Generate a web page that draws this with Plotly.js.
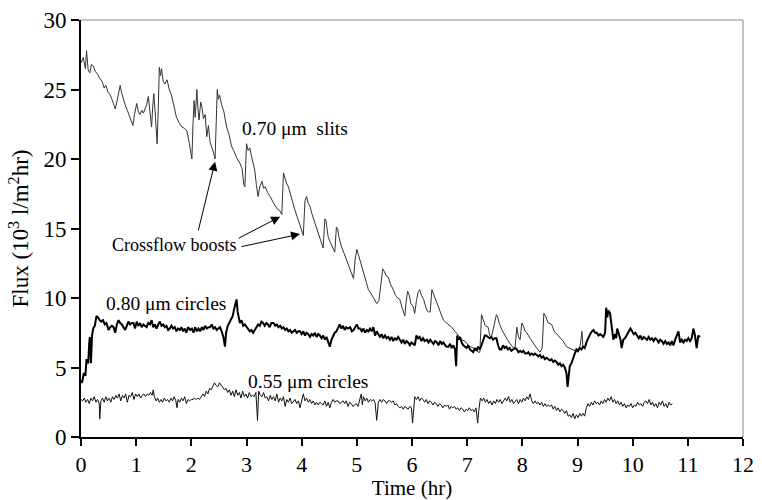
<!DOCTYPE html>
<html>
<head>
<meta charset="utf-8">
<script src="https://cdn.plot.ly/plotly-3.0.1.min.js"></script>
<style>html,body{margin:0;padding:0;background:#fff;}#chart{width:762px;height:500px;}</style>
</head>
<body>
<div id="chart"></div>
<script>
// 0.70 um slits
var slitsX = [0.00,0.04,0.08,0.10,0.13,0.16,0.19,0.22,0.26,0.30,0.34,0.38,0.42,0.45,0.49,0.53,0.57,0.60,0.62,0.65,0.68,0.71,0.74,0.77,0.80,0.84,0.88,0.91,0.94,0.97,1.01,1.04,1.07,1.10,1.13,1.16,1.19,1.22,1.25,1.28,1.30,1.32,1.35,1.38,1.40,1.42,1.44,1.46,1.49,1.52,1.56,1.60,1.64,1.68,1.73,1.78,1.83,1.88,1.92,1.96,2.01,2.03,2.05,2.07,2.10,2.12,2.14,2.17,2.19,2.22,2.25,2.28,2.31,2.34,2.37,2.40,2.43,2.45,2.47,2.49,2.51,2.55,2.59,2.64,2.68,2.73,2.77,2.82,2.88,2.92,2.95,2.97,3.00,3.03,3.06,3.09,3.12,3.15,3.18,3.21,3.24,3.28,3.31,3.34,3.38,3.43,3.48,3.52,3.56,3.60,3.64,3.67,3.70,3.73,3.76,3.79,3.83,3.88,3.92,3.97,4.00,4.03,4.06,4.09,4.12,4.15,4.19,4.24,4.28,4.33,4.36,4.39,4.42,4.44,4.46,4.48,4.52,4.57,4.60,4.63,4.65,4.68,4.72,4.77,4.82,4.88,4.94,4.97,5.00,5.03,5.06,5.09,5.12,5.17,5.21,5.26,5.30,5.33,5.36,5.40,5.44,5.47,5.50,5.53,5.57,5.61,5.66,5.70,5.74,5.78,5.82,5.87,5.89,5.92,5.95,5.98,6.02,6.05,6.08,6.11,6.14,6.17,6.21,6.24,6.27,6.30,6.33,6.36,6.39,6.43,6.47,6.51,6.57,6.63,6.69,6.72,6.78,6.84,6.90,6.96,7.02,7.06,7.11,7.16,7.20,7.23,7.26,7.29,7.33,7.38,7.41,7.44,7.48,7.53,7.55,7.58,7.63,7.68,7.73,7.78,7.84,7.87,7.90,7.93,7.96,7.99,8.02,8.05,8.08,8.14,8.20,8.26,8.32,8.36,8.39,8.42,8.47,8.53,8.58,8.63,8.68,8.74,8.80,8.86,8.92,8.97,9.01,9.05,9.08,9.10];
var slitsY = [26.9,27.3,26.5,27.8,26.4,26.2,26.8,26.7,26.3,26.1,25.8,25.6,25.1,25.3,24.8,24.6,24.2,23.9,23.6,24.1,24.6,25.3,24.7,24.2,23.9,23.5,23.1,22.8,22.4,23.2,24.0,23.4,23.2,23.5,23.3,23.6,23.9,24.5,23.6,22.3,23.8,24.7,23.0,21.1,23.5,26.6,26.0,26.5,25.6,25.4,25.7,25.0,24.6,23.9,23.0,22.6,22.3,22.2,22.0,21.2,20.0,22.5,24.2,23.0,25.0,23.6,22.8,24.1,23.8,22.9,23.2,21.6,22.4,21.2,20.9,20.5,20.0,22.8,25.0,24.3,24.6,23.9,23.4,22.3,21.8,20.9,20.6,20.1,19.7,19.3,18.2,18.0,21.1,20.6,20.8,20.2,19.6,19.2,18.1,17.3,18.0,18.4,17.9,18.0,17.6,17.3,16.9,16.6,16.4,16.3,16.0,19.0,18.6,18.2,18.0,17.5,17.0,16.3,15.8,15.1,14.8,14.5,17.0,17.3,16.8,16.6,16.0,15.4,14.9,14.2,13.9,13.6,15.7,15.6,15.0,14.4,14.0,13.5,13.3,15.1,15.0,14.3,13.7,13.2,12.7,12.1,11.4,12.8,13.5,13.1,12.7,12.3,11.8,11.1,10.6,10.3,10.0,9.8,9.6,9.8,11.2,12.1,11.9,11.6,11.5,11.0,10.6,10.2,10.0,9.9,9.3,8.7,9.6,10.5,10.2,9.6,9.4,8.9,9.8,10.4,10.6,10.2,9.9,9.4,9.1,9.0,9.0,10.6,10.3,9.8,9.4,9.1,8.4,8.2,8.0,7.9,7.6,7.3,7.0,6.9,6.6,6.5,6.4,6.3,6.1,6.1,8.8,8.5,8.0,7.9,7.3,7.2,7.9,8.8,8.7,8.2,7.7,7.3,7.0,6.7,6.4,6.5,7.9,7.2,7.0,8.2,8.0,7.6,7.5,7.1,6.7,6.4,6.1,6.4,8.9,8.7,8.2,8.1,7.6,7.4,7.2,6.9,6.5,6.4,6.3,6.2,6.1,6.6,7.6,6.4];

// 0.80 um circles
var c80X = [0.00,0.02,0.05,0.08,0.10,0.13,0.15,0.16,0.18,0.20,0.22,0.25,0.28,0.31,0.34,0.37,0.40,0.43,0.46,0.50,0.53,0.56,0.59,0.62,0.65,0.68,0.71,0.74,0.77,0.80,0.83,0.86,0.89,0.92,0.95,0.98,1.01,1.04,1.07,1.10,1.13,1.16,1.19,1.22,1.25,1.28,1.31,1.34,1.37,1.40,1.43,1.46,1.49,1.52,1.55,1.58,1.61,1.64,1.67,1.70,1.73,1.76,1.79,1.82,1.85,1.88,1.91,1.94,1.98,2.01,2.04,2.07,2.10,2.13,2.16,2.19,2.22,2.25,2.28,2.31,2.34,2.37,2.40,2.43,2.46,2.49,2.52,2.55,2.58,2.61,2.63,2.66,2.69,2.72,2.75,2.77,2.80,2.82,2.84,2.86,2.88,2.91,2.94,2.97,3.00,3.03,3.06,3.09,3.12,3.15,3.18,3.21,3.24,3.27,3.30,3.33,3.36,3.39,3.42,3.45,3.49,3.52,3.55,3.58,3.61,3.64,3.67,3.70,3.73,3.76,3.79,3.82,3.85,3.88,3.91,3.94,3.97,4.00,4.03,4.06,4.09,4.12,4.15,4.18,4.21,4.24,4.27,4.30,4.33,4.36,4.39,4.42,4.45,4.48,4.51,4.54,4.57,4.60,4.63,4.66,4.69,4.72,4.75,4.78,4.81,4.84,4.88,4.91,4.94,4.97,5.00,5.03,5.06,5.09,5.12,5.15,5.18,5.21,5.24,5.27,5.30,5.33,5.36,5.39,5.42,5.45,5.48,5.51,5.54,5.57,5.60,5.63,5.66,5.69,5.72,5.75,5.78,5.81,5.84,5.87,5.90,5.93,5.96,5.99,6.02,6.05,6.08,6.11,6.14,6.17,6.20,6.23,6.27,6.30,6.33,6.36,6.39,6.42,6.45,6.48,6.51,6.54,6.57,6.60,6.63,6.66,6.69,6.72,6.75,6.78,6.80,6.82,6.84,6.87,6.90,6.93,6.96,6.99,7.02,7.05,7.08,7.11,7.14,7.17,7.20,7.23,7.26,7.29,7.32,7.34,7.37,7.41,7.44,7.47,7.50,7.53,7.56,7.59,7.62,7.65,7.68,7.71,7.74,7.77,7.80,7.84,7.87,7.90,7.93,7.96,7.99,8.02,8.05,8.08,8.11,8.14,8.17,8.20,8.23,8.26,8.29,8.32,8.35,8.38,8.41,8.44,8.47,8.50,8.53,8.56,8.59,8.62,8.65,8.68,8.71,8.74,8.77,8.80,8.82,8.84,8.86,8.89,8.92,8.95,8.98,9.01,9.04,9.07,9.10,9.13,9.17,9.20,9.23,9.26,9.29,9.32,9.35,9.38,9.41,9.44,9.47,9.50,9.52,9.54,9.56,9.59,9.62,9.65,9.68,9.70,9.72,9.75,9.78,9.80,9.83,9.86,9.89,9.92,9.96,9.99,10.02,10.05,10.08,10.11,10.14,10.17,10.20,10.23,10.26,10.29,10.32,10.35,10.38,10.41,10.44,10.47,10.50,10.53,10.56,10.59,10.62,10.65,10.68,10.71,10.74,10.77,10.80,10.83,10.86,10.89,10.92,10.95,10.98,11.01,11.04,11.07,11.10,11.13,11.16,11.19,11.22];
var c80Y = [4.1,3.9,4.6,4.4,5.6,5.3,6.8,7.2,5.3,7.3,7.8,8.0,8.7,8.6,8.4,8.3,8.4,8.1,8.2,7.7,7.9,8.0,7.9,7.5,8.1,8.4,8.2,8.1,7.9,7.7,8.0,8.3,8.1,8.2,8.2,7.8,8.3,8.0,8.2,7.9,8.1,8.0,7.9,8.2,8.1,8.4,7.9,8.1,7.8,8.1,8.3,8.0,8.1,7.9,8.0,7.7,7.8,8.0,7.8,7.9,7.6,7.8,7.7,7.9,7.6,7.8,7.5,7.9,7.7,7.8,7.5,7.9,7.6,7.8,7.6,7.9,7.7,8.0,7.8,7.9,7.9,8.1,7.8,7.9,7.7,7.8,7.9,7.6,7.2,6.5,7.5,8.0,8.2,8.4,8.7,9.1,9.5,9.9,9.0,8.6,8.2,8.4,8.0,8.1,7.9,7.8,7.6,7.7,7.5,7.7,7.9,8.1,8.0,8.3,8.2,8.0,8.2,8.1,7.9,8.2,8.2,8.0,8.1,7.9,8.0,7.8,7.9,7.7,7.8,7.6,7.7,7.5,7.6,7.7,7.5,7.6,7.6,7.4,7.6,7.3,7.5,7.4,7.2,7.4,7.3,7.5,7.2,7.4,7.3,7.1,7.3,7.0,7.2,6.9,6.5,7.0,7.3,7.5,7.6,7.9,8.1,7.8,8.0,7.7,7.9,7.8,7.9,7.6,7.7,7.9,8.1,7.8,7.8,7.6,7.8,7.5,7.7,7.6,7.8,7.6,7.9,7.3,7.6,7.4,7.2,7.4,7.1,7.3,7.1,7.2,7.0,7.2,6.9,7.1,7.0,7.2,7.0,6.8,7.0,6.7,6.9,6.8,6.6,6.8,6.7,6.6,7.3,7.1,7.2,6.9,7.1,6.9,7.0,6.8,7.0,6.8,6.7,6.9,6.8,6.6,6.9,6.7,6.8,6.6,6.5,6.5,6.7,6.4,6.6,6.3,5.1,7.3,7.0,7.2,6.8,6.6,6.5,6.4,6.6,6.3,6.2,6.1,6.4,6.2,6.5,6.3,6.6,6.9,7.3,7.3,7.2,7.1,7.2,7.0,7.1,7.1,6.6,6.3,6.3,6.6,6.4,6.5,6.3,6.4,6.2,6.3,6.4,6.3,6.1,6.2,6.1,6.2,6.0,6.0,6.1,5.9,6.0,5.9,6.0,5.9,5.8,5.9,5.7,5.8,5.6,5.7,5.6,5.5,5.6,5.4,5.5,5.4,5.2,5.3,5.1,5.2,5.0,4.6,3.6,4.4,5.1,5.3,5.7,6.0,6.3,6.2,6.4,6.3,6.5,6.4,6.9,7.2,7.4,7.6,7.7,7.5,7.5,7.3,7.4,7.3,7.2,7.5,9.3,8.6,9.1,8.9,8.0,7.0,7.4,7.1,7.8,7.3,7.0,6.4,7.0,7.1,7.3,7.5,7.8,7.6,7.4,7.5,7.3,7.1,7.3,7.0,7.2,7.1,7.0,7.2,7.0,7.1,6.9,7.1,7.0,6.8,7.0,6.9,6.7,6.9,6.7,6.8,6.6,6.9,6.6,7.0,7.3,7.6,6.8,7.0,6.8,7.0,6.9,7.1,6.9,7.1,7.8,7.3,6.4,7.3,7.2];

// 0.55 um circles
var c55X = [0.00,0.03,0.06,0.09,0.12,0.15,0.18,0.21,0.24,0.27,0.30,0.33,0.34,0.36,0.39,0.42,0.45,0.48,0.51,0.54,0.57,0.60,0.63,0.66,0.69,0.72,0.75,0.78,0.81,0.84,0.87,0.90,0.93,0.96,0.99,1.02,1.05,1.08,1.11,1.14,1.17,1.20,1.23,1.26,1.29,1.31,1.33,1.36,1.39,1.42,1.45,1.48,1.51,1.54,1.57,1.60,1.63,1.66,1.69,1.72,1.74,1.76,1.79,1.82,1.85,1.88,1.91,1.94,1.97,2.00,2.03,2.06,2.09,2.12,2.15,2.18,2.21,2.24,2.27,2.30,2.33,2.36,2.39,2.42,2.45,2.48,2.51,2.54,2.57,2.60,2.63,2.66,2.69,2.72,2.75,2.78,2.81,2.84,2.87,2.90,2.93,2.96,2.99,3.02,3.05,3.08,3.11,3.14,3.17,3.20,3.22,3.25,3.28,3.31,3.34,3.37,3.40,3.43,3.46,3.49,3.52,3.55,3.58,3.61,3.64,3.67,3.70,3.73,3.76,3.79,3.82,3.85,3.88,3.91,3.94,3.97,4.00,4.03,4.06,4.09,4.12,4.15,4.18,4.21,4.24,4.27,4.30,4.33,4.36,4.39,4.42,4.45,4.48,4.51,4.54,4.57,4.60,4.63,4.66,4.69,4.72,4.75,4.78,4.81,4.84,4.87,4.90,4.93,4.96,4.99,5.02,5.05,5.08,5.10,5.12,5.15,5.18,5.21,5.24,5.27,5.30,5.33,5.36,5.39,5.42,5.45,5.48,5.51,5.54,5.57,5.60,5.63,5.66,5.69,5.72,5.75,5.78,5.81,5.84,5.87,5.90,5.93,5.96,5.99,6.01,6.03,6.05,6.08,6.11,6.14,6.17,6.20,6.23,6.26,6.29,6.32,6.35,6.38,6.41,6.44,6.47,6.50,6.53,6.56,6.59,6.62,6.65,6.68,6.71,6.74,6.77,6.80,6.83,6.86,6.89,6.92,6.95,6.98,7.01,7.04,7.07,7.10,7.13,7.16,7.19,7.21,7.24,7.27,7.30,7.33,7.36,7.39,7.42,7.45,7.48,7.51,7.54,7.57,7.60,7.63,7.66,7.69,7.72,7.75,7.78,7.81,7.84,7.87,7.90,7.93,7.96,7.99,8.02,8.05,8.08,8.11,8.14,8.17,8.20,8.23,8.26,8.29,8.32,8.35,8.38,8.41,8.44,8.47,8.50,8.53,8.56,8.59,8.62,8.65,8.68,8.71,8.74,8.77,8.80,8.83,8.86,8.89,8.92,8.95,8.98,9.01,9.04,9.07,9.10,9.13,9.16,9.19,9.22,9.25,9.28,9.31,9.34,9.37,9.40,9.43,9.46,9.49,9.52,9.55,9.58,9.61,9.64,9.67,9.70,9.73,9.76,9.79,9.82,9.85,9.88,9.91,9.94,9.97,10.00,10.03,10.06,10.09,10.12,10.15,10.18,10.21,10.24,10.27,10.30,10.33,10.36,10.39,10.42,10.45,10.48,10.51,10.54,10.57,10.60,10.63,10.66,10.69,10.72];
var c55Y = [2.7,2.6,2.8,2.5,2.7,2.4,2.8,2.6,2.9,2.5,2.7,2.4,1.3,2.6,2.8,2.5,2.9,2.6,2.8,2.5,2.9,2.7,3.0,2.8,3.1,2.6,3.0,2.8,3.1,2.5,3.0,2.9,3.2,2.7,3.1,2.9,3.1,2.8,3.0,3.1,2.9,3.1,3.0,3.2,3.0,3.4,2.9,2.6,2.8,2.5,2.7,2.5,2.8,2.6,2.7,2.5,2.8,2.6,2.9,2.6,2.1,2.7,2.5,2.8,2.6,2.9,2.4,2.7,2.6,2.7,2.7,2.8,2.7,2.8,2.7,2.9,3.1,2.9,3.3,3.1,3.5,3.4,3.6,3.9,3.7,3.6,3.9,3.7,3.5,3.4,3.5,3.2,3.4,3.0,3.3,2.9,3.4,3.0,3.2,2.8,3.3,2.9,3.1,2.8,3.2,2.9,3.0,2.9,3.2,1.2,3.3,3.0,2.9,3.2,2.8,2.9,2.6,3.0,2.7,2.9,2.6,3.1,2.5,2.8,2.6,2.9,2.2,2.7,2.5,2.8,2.4,2.6,2.7,2.4,2.6,2.1,2.7,3.1,2.6,2.8,2.5,2.7,2.4,2.6,2.3,2.5,2.3,2.5,2.4,2.3,2.6,2.2,2.5,2.1,2.5,2.7,2.5,2.6,2.6,2.4,2.5,2.6,2.4,2.6,2.2,2.5,2.4,2.2,2.3,2.4,2.2,2.6,3.1,2.3,2.9,2.6,2.8,2.5,2.7,2.6,2.7,2.5,1.2,2.5,2.7,2.5,2.7,2.6,2.4,2.6,2.6,2.5,2.6,2.3,2.4,2.2,2.1,2.2,2.0,2.2,2.1,2.0,2.2,2.1,1.0,2.0,2.9,2.7,2.9,2.6,2.8,2.7,2.5,2.7,2.4,2.6,2.5,2.3,2.5,2.4,2.2,2.4,2.3,2.1,2.3,2.2,2.3,2.0,2.2,2.1,2.2,2.0,2.1,1.9,2.1,2.0,1.8,2.0,1.9,2.1,1.9,2.0,1.8,2.1,1.0,1.9,2.8,2.6,2.8,2.5,2.7,2.4,2.6,2.3,2.6,2.4,2.7,2.5,2.7,2.4,2.6,2.8,2.6,2.9,2.5,2.7,2.4,2.6,2.7,2.4,2.7,2.5,2.8,2.6,2.9,2.7,3.1,2.6,2.4,2.6,2.4,2.5,2.3,2.5,2.2,2.4,2.2,2.3,2.2,2.3,2.0,2.2,1.9,2.1,1.8,2.0,1.9,1.7,1.9,1.5,1.6,1.4,1.7,1.3,1.6,1.4,1.7,1.5,1.7,1.5,2.1,2.4,2.2,2.5,2.3,2.6,2.4,2.5,2.3,2.6,2.4,2.7,2.5,2.8,2.6,2.9,2.5,2.7,2.4,2.6,2.3,2.5,2.2,2.4,2.1,2.3,2.2,2.4,2.1,2.3,2.2,2.5,2.3,2.4,2.2,2.5,2.6,2.4,2.7,2.3,2.5,2.2,2.4,2.1,2.5,2.3,2.6,2.2,2.4,2.1,2.5,2.3,2.4];

var xTicks = [0,1,2,3,4,5,6,7,8,9,10,11,12];
var yTicks = [0,5,10,15,20,25,30];

var serif = 'Liberation Serif, Times New Roman, serif';

var traces = [
  {x: slitsX, y: slitsY, mode: 'lines', line: {color: '#333333', width: 1}, name: '0.70 μm slits'},
  {x: c80X, y: c80Y, mode: 'lines', line: {color: '#000000', width: 2}, name: '0.80 μm circles'},
  {x: c55X, y: c55Y, mode: 'lines', line: {color: '#111111', width: 1}, name: '0.55 μm circles'}
];

var layout = {
  width: 762, height: 500,
  margin: {l: 81, r: 19, t: 20, b: 63},
  paper_bgcolor: '#ffffff', plot_bgcolor: '#ffffff',
  showlegend: false,
  font: {family: serif, color: '#000', size: 20},
  xaxis: {
    range: [0, 12], tickvals: xTicks, ticktext: xTicks.map(String),
    showgrid: false, zeroline: false, showline: true, linecolor: '#000', linewidth: 2,
    ticks: 'outside', ticklen: 7, tickwidth: 2, tickcolor: '#000',
    tickfont: {family: serif, size: 22, color: '#000'},
    title: {text: 'Time (hr)', font: {family: serif, size: 21, color: '#000'}, standoff: 7}
  },
  yaxis: {
    range: [0, 30], tickvals: yTicks, ticktext: yTicks.map(String),
    showgrid: false, zeroline: false, showline: true, linecolor: '#000', linewidth: 2,
    ticks: 'outside', ticklen: 8, tickwidth: 2, tickcolor: '#000',
    tickfont: {family: serif, size: 23, color: '#000'},
    title: {text: 'Flux (10<sup>3</sup> l/m<sup>2</sup>hr)', font: {family: serif, size: 23, color: '#000'}, standoff: 8}
  },
  shapes: [
    {type: 'line', xref: 'paper', yref: 'paper', x0: 0, x1: 1, y0: 1, y1: 1, line: {color: '#888', width: 1}},
    {type: 'line', xref: 'paper', yref: 'paper', x0: 1, x1: 1, y0: 0, y1: 1, line: {color: '#888', width: 1}}
  ],
  annotations: [
    {x: 2.88, y: 22.2, xref: 'x', yref: 'y', text: '0.70 μm\u00a0\u00a0slits', showarrow: false, xanchor: 'left', yanchor: 'middle', font: {family: serif, size: 19.5, color: '#000'}},
    {x: 0.42, y: 9.57, xref: 'x', yref: 'y', text: '0.80 μm circles', showarrow: false, xanchor: 'left', yanchor: 'middle', font: {family: serif, size: 19.5, color: '#000'}},
    {x: 2.99, y: 3.98, xref: 'x', yref: 'y', text: '0.55 μm circles', showarrow: false, xanchor: 'left', yanchor: 'middle', font: {family: serif, size: 19.5, color: '#000'}},
    {x: 1.70, y: 13.8, xref: 'x', yref: 'y', text: 'Crossflow boosts', showarrow: false, xanchor: 'center', yanchor: 'middle', font: {family: serif, size: 18, color: '#000'}},
    {x: 2.43, y: 19.8, ax: 2.12, ay: 14.75, xref: 'x', yref: 'y', axref: 'x', ayref: 'y', text: '', showarrow: true, arrowhead: 2, arrowsize: 1.8, arrowwidth: 1, arrowcolor: '#000'},
    {x: 3.61, y: 15.85, ax: 2.83, ay: 14.24, xref: 'x', yref: 'y', axref: 'x', ayref: 'y', text: '', showarrow: true, arrowhead: 2, arrowsize: 1.8, arrowwidth: 1, arrowcolor: '#000'},
    {x: 3.97, y: 14.6, ax: 2.88, ay: 13.67, xref: 'x', yref: 'y', axref: 'x', ayref: 'y', text: '', showarrow: true, arrowhead: 2, arrowsize: 1.8, arrowwidth: 1, arrowcolor: '#000'}
  ]
};

Plotly.newPlot('chart', traces, layout, {displayModeBar: false, staticPlot: true});
</script>
</body>
</html>
